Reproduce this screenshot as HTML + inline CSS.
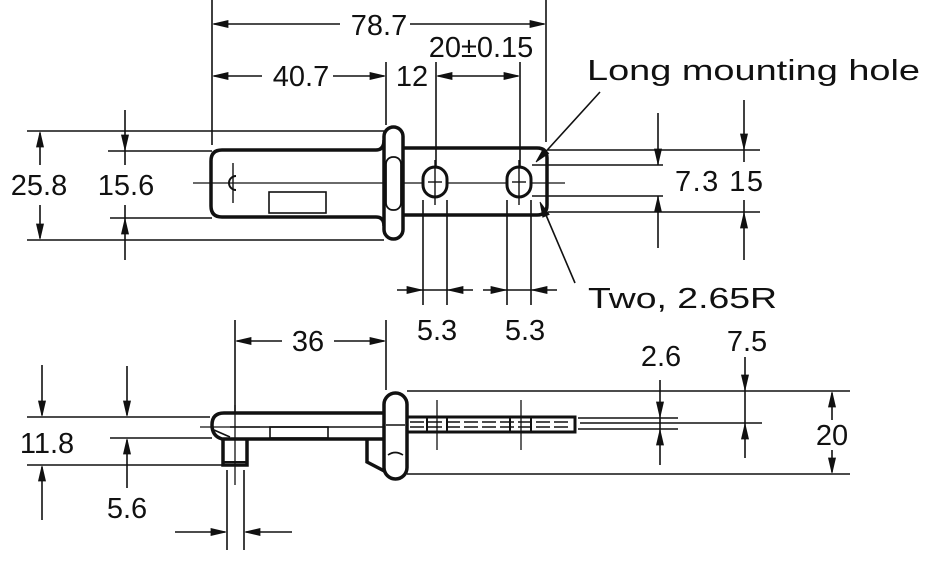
<!DOCTYPE html>
<html><head><meta charset="utf-8"><style>
html,body{margin:0;padding:0;background:#fff;}
svg{display:block;}
text{font-family:"Liberation Sans",Arial,sans-serif;font-size:29px;fill:#111;}
</style></head><body>
<svg width="944" height="576" viewBox="0 0 944 576" xmlns="http://www.w3.org/2000/svg">
<g stroke="#111" stroke-width="1.6" fill="none">
<line x1="212" y1="0" x2="212" y2="145"/>
<line x1="546" y1="0" x2="546" y2="142"/>
<line x1="340" y1="24" x2="214" y2="24"/>
<line x1="410" y1="24" x2="544" y2="24"/>
<line x1="262" y1="76" x2="214" y2="76"/>
<line x1="333" y1="76" x2="384" y2="76"/>
<line x1="386" y1="62" x2="386" y2="125"/>
<line x1="436" y1="62" x2="436" y2="168"/>
<line x1="520" y1="62" x2="520" y2="168"/>
<line x1="438" y1="76" x2="518" y2="76"/>
<line x1="27" y1="131" x2="384" y2="131"/>
<line x1="27" y1="240" x2="384" y2="240"/>
<line x1="40" y1="165" x2="40" y2="133"/>
<line x1="40" y1="205" x2="40" y2="238"/>
<line x1="108" y1="151" x2="212" y2="151"/>
<line x1="110" y1="218" x2="212" y2="218"/>
<line x1="125" y1="110" x2="125" y2="165"/>
<line x1="125" y1="260" x2="125" y2="205"/>
<line x1="548" y1="150" x2="760" y2="150"/>
<line x1="548" y1="212" x2="760" y2="212"/>
<line x1="532" y1="165" x2="663" y2="165"/>
<line x1="532" y1="196" x2="663" y2="196"/>
<line x1="658" y1="113" x2="658" y2="165"/>
<line x1="658" y1="248" x2="658" y2="196"/>
<line x1="744" y1="100" x2="744" y2="162"/>
<line x1="744" y1="260" x2="744" y2="200"/>
<line x1="600" y1="92" x2="540" y2="158"/>
<line x1="575" y1="283" x2="543" y2="208"/>
<line x1="423" y1="200" x2="423" y2="305"/><line x1="447" y1="200" x2="447" y2="305"/>
<line x1="507" y1="200" x2="507" y2="305"/><line x1="531" y1="200" x2="531" y2="305"/>
<line x1="397" y1="290" x2="473" y2="290"/>
<line x1="483" y1="290" x2="557" y2="290"/>
<line x1="193" y1="183" x2="565" y2="183" stroke-width="1.3"/>
</g>
<!-- top view part -->
<g stroke="#111" fill="none">
<path d="M384,140 Q384,150 376,150 L222,150 Q211,150 211,161 L211,206 Q211,217 222,217 L376,217 Q384,217 384,226" stroke-width="3.5"/>
<path d="M403,148 L537,148 Q547,148 547,158 L547,205 Q547,215 537,215 L403,215" stroke-width="3.5"/>
<rect x="384" y="127" width="19" height="112" rx="9.5" fill="#fff" stroke-width="3.5"/>
<rect x="386" y="157" width="15" height="53" rx="7" stroke-width="1.8"/>
<rect x="269" y="192" width="57" height="21" stroke-width="1.6"/>
<path d="M236,176 A7,7 0 1 0 236,190" stroke-width="2"/>
<line x1="233" y1="163" x2="233" y2="203" stroke-width="1.4"/>
<rect x="423" y="167" width="24" height="30" rx="12" stroke-width="3" fill="#fff"/>
<rect x="507" y="167" width="24" height="30" rx="12" stroke-width="3" fill="#fff"/>
<line x1="435" y1="160" x2="435" y2="205" stroke-width="1.4"/>
<line x1="428" y1="182" x2="442" y2="182" stroke-width="1.4"/>
<line x1="519" y1="160" x2="519" y2="205" stroke-width="1.4"/>
<line x1="512" y1="182" x2="526" y2="182" stroke-width="1.4"/>
</g>
<!-- bottom view dims -->
<g stroke="#111" stroke-width="1.6" fill="none">
<line x1="235" y1="320" x2="235" y2="412"/>
<line x1="386" y1="320" x2="386" y2="390"/>
<line x1="282" y1="341" x2="237" y2="341"/>
<line x1="334" y1="341" x2="384" y2="341"/>
<line x1="27" y1="417" x2="210" y2="417"/>
<line x1="110" y1="438" x2="212" y2="438"/>
<line x1="27" y1="465" x2="222" y2="465"/>
<line x1="42" y1="365" x2="42" y2="415"/>
<line x1="42" y1="520" x2="42" y2="467"/>
<line x1="127" y1="366" x2="127" y2="415"/>
<line x1="127" y1="488" x2="127" y2="440"/>
<line x1="227" y1="470" x2="227" y2="550"/>
<line x1="244" y1="470" x2="244" y2="550"/>
<line x1="175" y1="532" x2="225" y2="532"/>
<line x1="292" y1="532" x2="246" y2="532"/>
<line x1="235" y1="405" x2="235" y2="485" stroke-width="1.3"/>
<line x1="407" y1="391" x2="850" y2="391"/>
<line x1="407" y1="474" x2="850" y2="474"/>
<line x1="832" y1="420" x2="832" y2="393"/>
<line x1="832" y1="450" x2="832" y2="472"/>
<line x1="578" y1="418" x2="678" y2="418"/>
<line x1="578" y1="429" x2="678" y2="429"/>
<line x1="660" y1="380" x2="660" y2="465"/>
<line x1="580" y1="423" x2="762" y2="423"/>
<line x1="745" y1="357" x2="745" y2="458"/>
<line x1="200" y1="427" x2="260" y2="427" stroke-width="1.3"/>
<line x1="437" y1="400" x2="437" y2="450" stroke-width="1.3"/>
<line x1="521" y1="400" x2="521" y2="450" stroke-width="1.3"/>
</g>
<!-- bottom view part -->
<g stroke="#111" fill="none">
<path d="M384,413 L224,413 Q212,413 212,425 Q212,436 222,439 L384,439" stroke-width="3.5"/>
<path d="M214,430 L230,437" stroke-width="1.6"/>
<line x1="230" y1="427" x2="384" y2="427" stroke-width="1.6"/>
<rect x="270" y="427" width="58" height="11" stroke-width="1.6"/>
<path d="M223,439 L223,465 L247,465 L247,439" stroke-width="3.5"/>
<line x1="223" y1="462" x2="247" y2="462" stroke-width="2"/>
<path d="M367,439 L367,462 L390,474" stroke-width="3.5"/>
<rect x="384" y="393" width="23" height="86" rx="11.5" fill="#fff" stroke-width="3.5"/>
<path d="M386,425 L405,425" stroke-width="1.6"/>
<path d="M388,455 Q395,450 403,455" stroke-width="1.6"/>
<rect x="407" y="417" width="168" height="15" stroke-width="3"/>
<line x1="410" y1="422" x2="572" y2="422" stroke-width="1.4" stroke-dasharray="14,4"/>
<line x1="410" y1="427" x2="572" y2="427" stroke-width="1.4" stroke-dasharray="14,4"/>
<line x1="427" y1="417" x2="427" y2="432" stroke-width="2"/>
<line x1="447" y1="417" x2="447" y2="432" stroke-width="2"/>
<line x1="510" y1="417" x2="510" y2="432" stroke-width="2"/>
<line x1="531" y1="417" x2="531" y2="432" stroke-width="2"/>
</g>
<!-- arrowheads -->
<g fill="#111" stroke="#111" stroke-width="0.8">
<polygon points="545,24 530,20.5 530,27.5"/>
<polygon points="385,76 370,72.5 370,79.5"/>
<polygon points="519,76 504,72.5 504,79.5"/>
<polygon points="422,290 407,286.5 407,293.5"/>
<polygon points="506,290 491,286.5 491,293.5"/>
<polygon points="385,341 370,337.5 370,344.5"/>
<polygon points="226,532 211,528.5 211,535.5"/>
<polygon points="213,24 228,20.5 228,27.5"/>
<polygon points="213,76 228,72.5 228,79.5"/>
<polygon points="437,76 452,72.5 452,79.5"/>
<polygon points="448,290 463,286.5 463,293.5"/>
<polygon points="532,290 547,286.5 547,293.5"/>
<polygon points="236,341 251,337.5 251,344.5"/>
<polygon points="245,532 260,528.5 260,535.5"/>
<polygon points="40,239 36.5,224 43.5,224"/>
<polygon points="125,150 121.5,135 128.5,135"/>
<polygon points="658,164 654.5,149 661.5,149"/>
<polygon points="744,149 740.5,134 747.5,134"/>
<polygon points="42,416 38.5,401 45.5,401"/>
<polygon points="127,416 123.5,401 130.5,401"/>
<polygon points="832,473 828.5,458 835.5,458"/>
<polygon points="660,417 656.5,402 663.5,402"/>
<polygon points="745,390 741.5,375 748.5,375"/>
<polygon points="40,132 36.5,147 43.5,147"/>
<polygon points="125,219 121.5,234 128.5,234"/>
<polygon points="658,197 654.5,212 661.5,212"/>
<polygon points="744,213 740.5,228 747.5,228"/>
<polygon points="42,466 38.5,481 45.5,481"/>
<polygon points="127,439 123.5,454 130.5,454"/>
<polygon points="832,392 828.5,407 835.5,407"/>
<polygon points="660,430 656.5,445 663.5,445"/>
<polygon points="745,424 741.5,439 748.5,439"/>
<polygon points="536,162 548.7,153.3 543.5,148.5"/>
<polygon points="540,202 549.2,214.4 542.8,217.2"/>
</g>
<!-- text -->
<text x="379" y="35" text-anchor="middle">78.7</text>
<text x="481" y="57" text-anchor="middle">20±0.15</text>
<text x="301" y="86" text-anchor="middle">40.7</text>
<text x="412" y="86" text-anchor="middle">12</text>
<text x="587" y="80" font-size="33" textLength="333" lengthAdjust="spacingAndGlyphs">Long mounting hole</text>
<text x="39" y="195" text-anchor="middle">25.8</text>
<text x="126" y="195" text-anchor="middle">15.6</text>
<text x="675" y="191" textLength="88" lengthAdjust="spacing">7.3 15</text>
<text x="588" y="308" font-size="33" textLength="189" lengthAdjust="spacingAndGlyphs">Two, 2.65R</text>
<text x="437" y="340" text-anchor="middle">5.3</text>
<text x="525" y="340" text-anchor="middle">5.3</text>
<text x="308" y="351" text-anchor="middle">36</text>
<text x="661" y="366" text-anchor="middle">2.6</text>
<text x="747" y="351" text-anchor="middle">7.5</text>
<text x="832" y="445" text-anchor="middle">20</text>
<text x="47" y="453" text-anchor="middle">11.8</text>
<text x="127" y="518" text-anchor="middle">5.6</text>
</svg>
</body></html>
